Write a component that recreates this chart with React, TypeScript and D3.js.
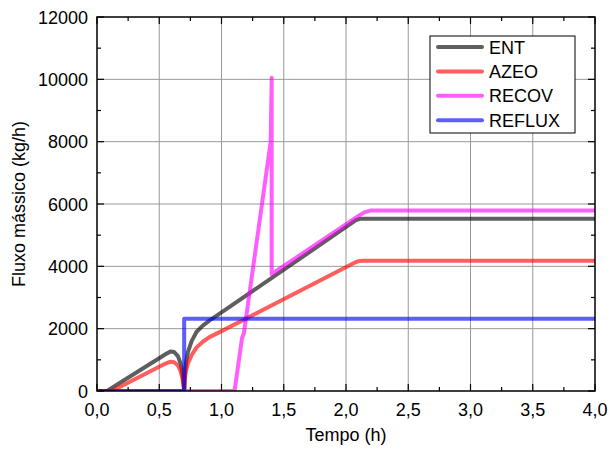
import React from "react";
import * as d3 from "d3";

const entT = [0, 0.08, 0.55, 0.59, 0.62, 0.65, 0.67, 0.685, 0.695, 0.7, 0.705, 0.715, 0.73, 0.76, 0.8, 0.85, 0.9, 1.0, 2.08, 2.11, 2.14, 4.0];
const entV = [0, 0, 1180, 1270, 1250, 1120, 900, 600, 250, 0, 500, 900, 1250, 1600, 1900, 2100, 2250, 2520, 5480, 5525, 5530, 5530];

const azeoT = [0, 0.12, 0.55, 0.59, 0.62, 0.65, 0.67, 0.685, 0.695, 0.7, 0.705, 0.715, 0.73, 0.76, 0.8, 0.85, 0.9, 1.0, 2.08, 2.11, 2.14, 4.0];
const azeoV = [0, 0, 880, 940, 920, 820, 650, 430, 180, 0, 350, 650, 880, 1150, 1400, 1580, 1720, 1920, 4140, 4175, 4180, 4180];

const recovT = [0, 1.105, 1.165, 1.18, 1.395, 1.403, 1.403, 1.41, 2.1, 2.15, 2.2, 4.0];
const recovV = [0, 0, 1700, 1850, 8000, 10050, 3750, 3770, 5620, 5740, 5790, 5790];

const refluxT = [0, 0.7, 0.7, 4.0];
const refluxV = [0, 0, 2320, 2320];

const seriesNames = ["ENT", "AZEO", "RECOV", "REFLUX"];
const seriesColors = ["#000000", "#ff0000", "#ff00ff", "#0000ff"];

const xTicks = [0, 0.5, 1, 1.5, 2, 2.5, 3, 3.5, 4];
const yTicks = [0, 2000, 4000, 6000, 8000, 10000, 12000];
const xMinor = [0.25, 0.75, 1.25, 1.75, 2.25, 2.75, 3.25, 3.75];
const yMinor = [1000, 3000, 5000, 7000, 9000, 11000];

const W = 613, H = 451;
const L = 97, R = 595, T = 17, B = 391;

export default function App() {
  const x = d3.scaleLinear().domain([0, 4]).range([L, R]);
  const y = d3.scaleLinear().domain([0, 12000]).range([B, T]);
  const line = d3.line<[number, number]>().x(d => x(d[0])).y(d => y(d[1]));
  const data: [number, number][][] = [
    entT.map((t, i) => [t, entV[i]]),
    azeoT.map((t, i) => [t, azeoV[i]]),
    recovT.map((t, i) => [t, recovV[i]]),
    refluxT.map((t, i) => [t, refluxV[i]]),
  ];
  const fmt = (v: number) => v.toFixed(1).replace(".", ",");
  const font = "'Liberation Sans', Arial, Helvetica, sans-serif";
  const fs = 18;
  const legX = 430, legY = 36, legW = 145, legH = 97;
  return (
    <svg width={W} height={H} style={{ position: "absolute", left: 0, top: 0 }} fontFamily={font}>
      <rect width={W} height={H} fill="#fff" />
      <defs>
        <clipPath id="plot"><rect x={L} y={T} width={R - L} height={B - T} /></clipPath>
      </defs>
      {xTicks.slice(1, -1).map(t => (
        <line key={"gx" + t} x1={x(t)} x2={x(t)} y1={T} y2={B} stroke="#999" strokeWidth={1} />
      ))}
      {yTicks.slice(1, -1).map(t => (
        <line key={"gy" + t} x1={L} x2={R} y1={y(t)} y2={y(t)} stroke="#999" strokeWidth={1} />
      ))}
      <g clipPath="url(#plot)">
        {data.map((d, i) => (
          <path key={i} d={line(d) || ""} fill="none" stroke={seriesColors[i]} strokeOpacity={0.63}
            strokeWidth={4} strokeLinejoin="round" strokeLinecap="butt" />
        ))}
      </g>
      <rect x={L} y={T} width={R - L} height={B - T} fill="none" stroke="#000" strokeWidth={1.5} />
      {xTicks.map(t => (
        <g key={"xt" + t}>
          <line x1={x(t)} x2={x(t)} y1={B} y2={B - 7} stroke="#000" strokeWidth={1.2} />
          <line x1={x(t)} x2={x(t)} y1={T} y2={T + 7} stroke="#000" strokeWidth={1.2} />
          <text x={x(t)} y={416} textAnchor="middle" fontSize={fs}>{fmt(t)}</text>
        </g>
      ))}
      {xMinor.map(t => (
        <g key={"xm" + t}>
          <line x1={x(t)} x2={x(t)} y1={B} y2={B - 4} stroke="#000" strokeWidth={1.2} />
          <line x1={x(t)} x2={x(t)} y1={T} y2={T + 4} stroke="#000" strokeWidth={1.2} />
        </g>
      ))}
      {yTicks.map(t => (
        <g key={"yt" + t}>
          <line x1={L} x2={L + 7} y1={y(t)} y2={y(t)} stroke="#000" strokeWidth={1.2} />
          <line x1={R} x2={R - 7} y1={y(t)} y2={y(t)} stroke="#000" strokeWidth={1.2} />
          <text x={88} y={y(t) + 6.5} textAnchor="end" fontSize={fs}>{t}</text>
        </g>
      ))}
      {yMinor.map(t => (
        <g key={"ym" + t}>
          <line x1={L} x2={L + 4} y1={y(t)} y2={y(t)} stroke="#000" strokeWidth={1.2} />
          <line x1={R} x2={R - 4} y1={y(t)} y2={y(t)} stroke="#000" strokeWidth={1.2} />
        </g>
      ))}
      <text x={(L + R) / 2} y={441} textAnchor="middle" fontSize={fs}>Tempo (h)</text>
      <text transform={`translate(25,${(T + B) / 2}) rotate(-90)`} textAnchor="middle" fontSize={fs}>Fluxo mássico (kg/h)</text>
      <rect x={legX} y={legY} width={legW} height={legH} fill="#fff" stroke="#000" strokeWidth={1} />
      {seriesNames.map((n, i) => {
        const ly = 47 + i * 24.4;
        return (
          <g key={n}>
            <line x1={438} x2={482} y1={ly} y2={ly} stroke={seriesColors[i]} strokeOpacity={0.63} strokeWidth={4} strokeLinecap="round" />
            <text x={489} y={ly + 6.5} fontSize={fs}>{n}</text>
          </g>
        );
      })}
    </svg>
  );
}
